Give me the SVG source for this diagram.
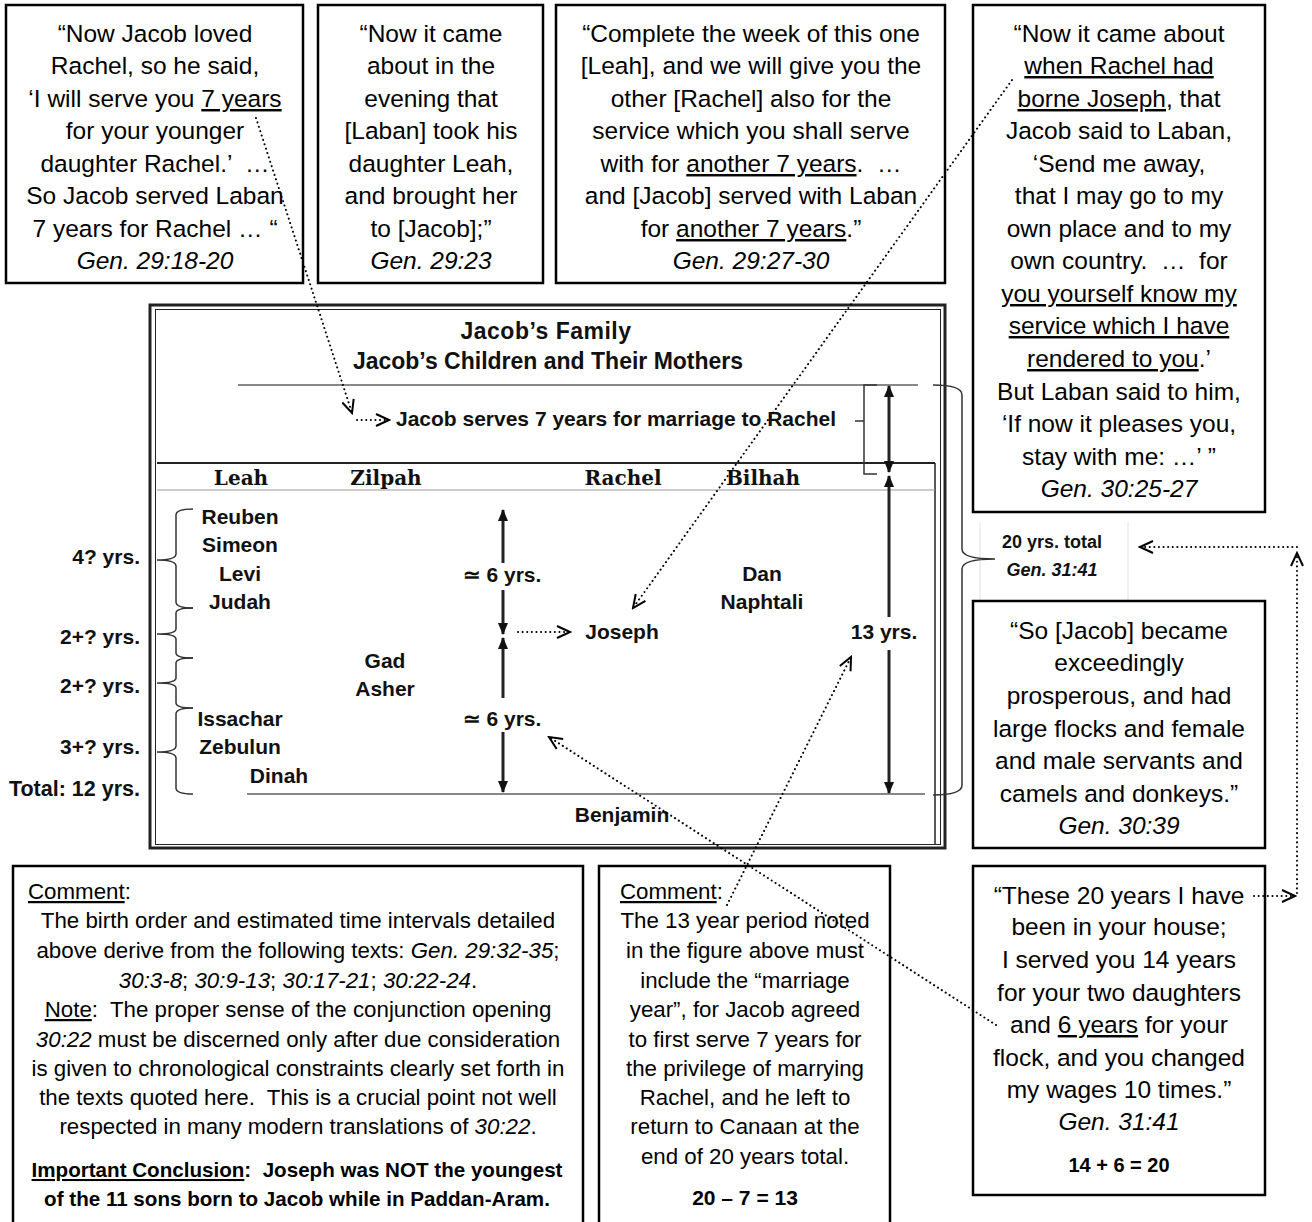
<svg xmlns="http://www.w3.org/2000/svg" width="1312" height="1222" viewBox="0 0 1312 1222" xml:space="preserve">
<style>
.box{fill:#fff;stroke:#000;stroke-width:2.5}
text{white-space:pre}
.q{font-family:"Liberation Sans",Arial,sans-serif;font-size:24.5px;text-anchor:middle;fill:#000}
.c{font-family:"Liberation Sans",Arial,sans-serif;font-size:22.3px;text-anchor:middle;fill:#000}
.cl{text-anchor:start}
.i{font-style:italic}
.b{font-weight:bold}
.u{text-decoration:underline}
.w{text-decoration:underline wavy #777}
.t{font-family:"Liberation Sans",Arial,sans-serif;font-weight:bold;font-size:21px;text-anchor:middle;fill:#111}
.tr{text-anchor:end}
.h{font-family:"DejaVu Serif","Liberation Serif",serif;font-weight:bold;font-size:20px;text-anchor:middle;fill:#111}
.gl{stroke:#888;stroke-width:2;fill:none}
.br{stroke:#333;stroke-width:1.5;fill:none}
.va{stroke:#222;stroke-width:3;fill:none}
.dot{stroke:#000;stroke-width:2;stroke-dasharray:0.1 4.5;stroke-linecap:round;fill:none}
</style>
<defs>
<marker id="tri" markerUnits="userSpaceOnUse" viewBox="0 0 12 10" markerWidth="12" markerHeight="10" refX="11" refY="5" orient="auto-start-reverse"><path d="M0,0 L12,5 L0,10 Z" fill="#111"/></marker>
<marker id="open" markerUnits="userSpaceOnUse" viewBox="0 0 16 14" markerWidth="16" markerHeight="14" refX="14" refY="7" orient="auto"><path d="M1,1 L14,7 L1,13" fill="none" stroke="#000" stroke-width="2"/></marker>
</defs>
<rect width="1312" height="1222" fill="#fff"/>

<g id="box-gen-29-18-20">
<rect class="box" x="6" y="5" width="297" height="278"/>
<text class="q" x="155" y="42">“Now Jacob loved</text>
<text class="q" x="155" y="74">Rachel, so he said,</text>
<text class="q" x="155" y="107">‘I will serve you <tspan class="w">7 years</tspan></text>
<text class="q" x="155" y="139">for your younger</text>
<text class="q" x="155" y="172">daughter Rachel.’  …</text>
<text class="q" x="155" y="204">So Jacob served Laban</text>
<text class="q" x="155" y="237">7 years for Rachel … “</text>
<text class="q i" x="155" y="269">Gen. 29:18-20</text>
</g>

<g id="box-gen-29-23">
<rect class="box" x="318" y="5" width="225" height="278"/>
<text class="q" x="431" y="42">“Now it came</text>
<text class="q" x="431" y="74">about in the</text>
<text class="q" x="431" y="107">evening that</text>
<text class="q" x="431" y="139">[Laban] took his</text>
<text class="q" x="431" y="172">daughter Leah,</text>
<text class="q" x="431" y="204">and brought her</text>
<text class="q" x="431" y="237">to [Jacob];”</text>
<text class="q i" x="431" y="269">Gen. 29:23</text>
</g>

<g id="box-gen-29-27-30">
<rect class="box" x="556" y="5" width="389" height="278"/>
<text class="q" x="751" y="42">“Complete the week of this one</text>
<text class="q" x="751" y="74">[Leah], and we will give you the</text>
<text class="q" x="751" y="107">other [Rachel] also for the</text>
<text class="q" x="751" y="139">service which you shall serve</text>
<text class="q" x="751" y="172">with for <tspan class="w">another 7 years</tspan>.  …</text>
<text class="q" x="751" y="204">and [Jacob] served with Laban</text>
<text class="q" x="751" y="237">for <tspan class="w">another 7 years</tspan>.”</text>
<text class="q i" x="751" y="269">Gen. 29:27-30</text>
</g>

<g id="box-gen-30-25-27">
<rect class="box" x="973" y="5" width="292" height="507"/>
<text class="q" x="1119" y="42">“Now it came about</text>
<text class="q" x="1119" y="74"><tspan class="w">when Rachel had</tspan></text>
<text class="q" x="1119" y="107"><tspan class="w">borne Joseph</tspan>, that</text>
<text class="q" x="1119" y="139">Jacob said to Laban,</text>
<text class="q" x="1119" y="172">‘Send me away,</text>
<text class="q" x="1119" y="204">that I may go to my</text>
<text class="q" x="1119" y="237">own place and to my</text>
<text class="q" x="1119" y="269">own country.  …  for</text>
<text class="q" x="1119" y="302"><tspan class="w">you yourself know my</tspan></text>
<text class="q" x="1119" y="334"><tspan class="w">service which I have</tspan></text>
<text class="q" x="1119" y="367"><tspan class="w">rendered to you</tspan>.’</text>
<text class="q" x="1119" y="400">But Laban said to him,</text>
<text class="q" x="1119" y="432">‘If now it pleases you,</text>
<text class="q" x="1119" y="465">stay with me: …’ ”</text>
<text class="q i" x="1119" y="497">Gen. 30:25-27</text>
</g>

<g id="total-20-years">
<line x1="980" y1="522" x2="980" y2="600" stroke="#e2e2e2" stroke-width="1"/>
<line x1="1128" y1="522" x2="1128" y2="600" stroke="#e2e2e2" stroke-width="1"/>
<text class="t" x="1052" y="548" style="font-size:18px">20 yrs. total</text>
<text class="t i" x="1052" y="576" style="font-size:18px">Gen. 31:41</text>
</g>

<g id="box-gen-30-39">
<rect class="box" x="973" y="601" width="292" height="247"/>
<text class="q" x="1119" y="639">“So [Jacob] became</text>
<text class="q" x="1119" y="671">exceedingly</text>
<text class="q" x="1119" y="704">prosperous, and had</text>
<text class="q" x="1119" y="737">large flocks and female</text>
<text class="q" x="1119" y="769">and male servants and</text>
<text class="q" x="1119" y="802">camels and donkeys.”</text>
<text class="q i" x="1119" y="834">Gen. 30:39</text>
</g>

<g id="box-gen-31-41">
<rect class="box" x="973" y="866" width="292" height="329"/>
<text class="q" x="1119" y="904">“These 20 years I have</text>
<text class="q" x="1119" y="935">been in your house;</text>
<text class="q" x="1119" y="968">I served you 14 years</text>
<text class="q" x="1119" y="1001">for your two daughters</text>
<text class="q" x="1119" y="1033">and <tspan class="w">6 years</tspan> for your</text>
<text class="q" x="1119" y="1066">flock, and you changed</text>
<text class="q" x="1119" y="1098">my wages 10 times.”</text>
<text class="q i" x="1119" y="1130">Gen. 31:41</text>
<text class="q b" x="1119" y="1172" style="font-size:20px">14 + 6 = 20</text>
</g>

<g id="comment-birth-order">
<rect class="box" x="13" y="866" width="570" height="370"/>
<text class="c cl" x="28" y="899"><tspan class="u">Comment</tspan>:</text>
<text class="c" x="298" y="928">The birth order and estimated time intervals detailed</text>
<text class="c" x="298" y="958">above derive from the following texts: <tspan class="i">Gen. 29:32-35</tspan>;</text>
<text class="c" x="298" y="988"><tspan class="i">30:3-8</tspan>; <tspan class="i">30:9-13</tspan>; <tspan class="i">30:17-21</tspan>; <tspan class="i">30:22-24</tspan>.</text>
<text class="c" x="298" y="1017"><tspan class="u">Note</tspan>:  The proper sense of the conjunction opening</text>
<text class="c" x="298" y="1047"><tspan class="i">30:22</tspan> must be discerned only after due consideration</text>
<text class="c" x="298" y="1076">is given to chronological constraints clearly set forth in</text>
<text class="c" x="298" y="1105">the texts quoted here.  This is a crucial point not well</text>
<text class="c" x="298" y="1134">respected in many modern translations of <tspan class="i">30:22</tspan>.</text>
<text class="c b" x="297" y="1177" style="font-size:20.6px"><tspan class="u">Important Conclusion</tspan>:  Joseph was NOT the youngest</text>
<text class="c b" x="297" y="1206" style="font-size:20.6px">of the 11 sons born to Jacob while in Paddan-Aram.</text>
</g>

<g id="comment-13-years">
<rect class="box" x="599" y="866" width="291" height="370"/>
<text class="c cl" x="620" y="899"><tspan class="u">Comment</tspan>:</text>
<text class="c" x="745" y="928">The 13 year period noted</text>
<text class="c" x="745" y="958">in the figure above must</text>
<text class="c" x="745" y="988">include the “marriage</text>
<text class="c" x="745" y="1017">year”, for Jacob agreed</text>
<text class="c" x="745" y="1047">to first serve 7 years for</text>
<text class="c" x="745" y="1076">the privilege of marrying</text>
<text class="c" x="745" y="1105">Rachel, and he left to</text>
<text class="c" x="745" y="1134">return to Canaan at the</text>
<text class="c" x="745" y="1164">end of 20 years total.</text>
<text class="c b" x="745" y="1205" style="font-size:21px">20 – 7 = 13</text>
</g>

<g id="family-chart">
<rect x="150" y="305" width="795" height="543" fill="none" stroke="#222" stroke-width="3"/>
<rect x="155.5" y="309.5" width="785" height="535" fill="none" stroke="#222" stroke-width="1"/>
<line class="gl" x1="238" y1="385" x2="918" y2="385"/>
<line x1="157" y1="463" x2="935" y2="463" stroke="#222" stroke-width="2"/>
<line x1="935" y1="463" x2="935" y2="845" stroke="#222" stroke-width="1.5"/>
<line x1="157" y1="490" x2="935" y2="490" stroke="#999" stroke-width="1"/>
<line class="gl" x1="247" y1="794" x2="925" y2="794"/>

<text class="t" x="546" y="339" style="font-size:23px;letter-spacing:0.5px">Jacob’s Family</text>
<text class="t" x="548" y="369" style="font-size:23px">Jacob’s Children and Their Mothers</text>
<text class="t" x="616" y="426" style="font-size:21px">Jacob serves 7 years for marriage to Rachel</text>

<text class="h" x="241" y="485">Leah</text>
<text class="h" x="386" y="485">Zilpah</text>
<text class="h" x="623" y="485">Rachel</text>
<text class="h" x="763" y="485">Bilhah</text>

<text class="t" x="240" y="524">Reuben</text>
<text class="t" x="240" y="552">Simeon</text>
<text class="t" x="240" y="581">Levi</text>
<text class="t" x="240" y="609">Judah</text>
<text class="t" x="240" y="726">Issachar</text>
<text class="t" x="240" y="754">Zebulun</text>
<text class="t" x="279" y="783">Dinah</text>
<text class="t" x="385" y="668">Gad</text>
<text class="t" x="385" y="696">Asher</text>
<text class="t" x="762" y="581">Dan</text>
<text class="t" x="762" y="609">Naphtali</text>
<text class="t" x="622" y="639">Joseph</text>
<text class="t" x="622" y="822">Benjamin</text>
<text class="t" x="502" y="582">≃ 6 yrs.</text>
<text class="t" x="502" y="726">≃ 6 yrs.</text>
<text class="t" x="884" y="639">13 yrs.</text>

<text class="t tr" x="140" y="564">4? yrs.</text>
<text class="t tr" x="140" y="644">2+? yrs.</text>
<text class="t tr" x="140" y="693">2+? yrs.</text>
<text class="t tr" x="140" y="754">3+? yrs.</text>
<text class="t tr" x="140" y="796" style="font-size:21.5px">Total: 12 yrs.</text>

<path class="br" d="M193,509 Q176,509 176,515 L176,554 Q176,560 157,560 Q176,560 176,566 L176,602 Q176,608 193,608"/>
<path class="br" d="M193,608 Q176,608 176,613 L176,629 Q176,634 157,634 Q176,634 176,639 L176,653 Q176,658 193,658"/>
<path class="br" d="M193,658 Q176,658 176,663 L176,678 Q176,683 157,683 Q176,683 176,688 L176,703 Q176,708 193,708"/>
<path class="br" d="M193,708 Q176,708 176,714 L176,746 Q176,752 157,752 Q176,752 176,758 L176,788 Q176,794 193,794"/>

<path class="br" d="M877,385 L864,385 L864,474 L877,474 M864,421 L855,421"/>
<path class="br" d="M933,385 Q962,385 962,395 L962,549 Q962,559 995,559 Q962,559 962,569 L962,785 Q962,795 933,795"/>

<line class="va" x1="503" y1="510" x2="503" y2="563" marker-start="url(#tri)"/>
<line class="va" x1="503" y1="590" x2="503" y2="634" marker-end="url(#tri)"/>
<line class="va" x1="503" y1="638" x2="503" y2="698" marker-start="url(#tri)"/>
<line class="va" x1="503" y1="732" x2="503" y2="792" marker-end="url(#tri)"/>
<line class="va" x1="889" y1="386" x2="889" y2="472" marker-start="url(#tri)" marker-end="url(#tri)"/>
<line class="va" x1="889" y1="476" x2="889" y2="617" marker-start="url(#tri)"/>
<line class="va" x1="889" y1="650" x2="889" y2="793" marker-end="url(#tri)"/>
</g>

<g id="connectors">
<path class="dot" d="M256,118 L352,413" marker-end="url(#open)"/>
<path class="dot" d="M357,420 L389,420" marker-end="url(#open)"/>
<path class="dot" d="M1012,80 L633,608" marker-end="url(#open)"/>
<path class="dot" d="M518,632 L570,632" marker-end="url(#open)"/>
<path class="dot" d="M1254,896 L1295,896" marker-end="url(#open)"/>
<path class="dot" d="M1297,893 L1297,553" marker-end="url(#open)"/>
<path class="dot" d="M1297,547 L1140,547" marker-end="url(#open)"/>
<path class="dot" d="M996,1025 L549,737" marker-end="url(#open)"/>
<path class="dot" d="M727,905 L851,657" marker-end="url(#open)"/>
</g>
</svg>
